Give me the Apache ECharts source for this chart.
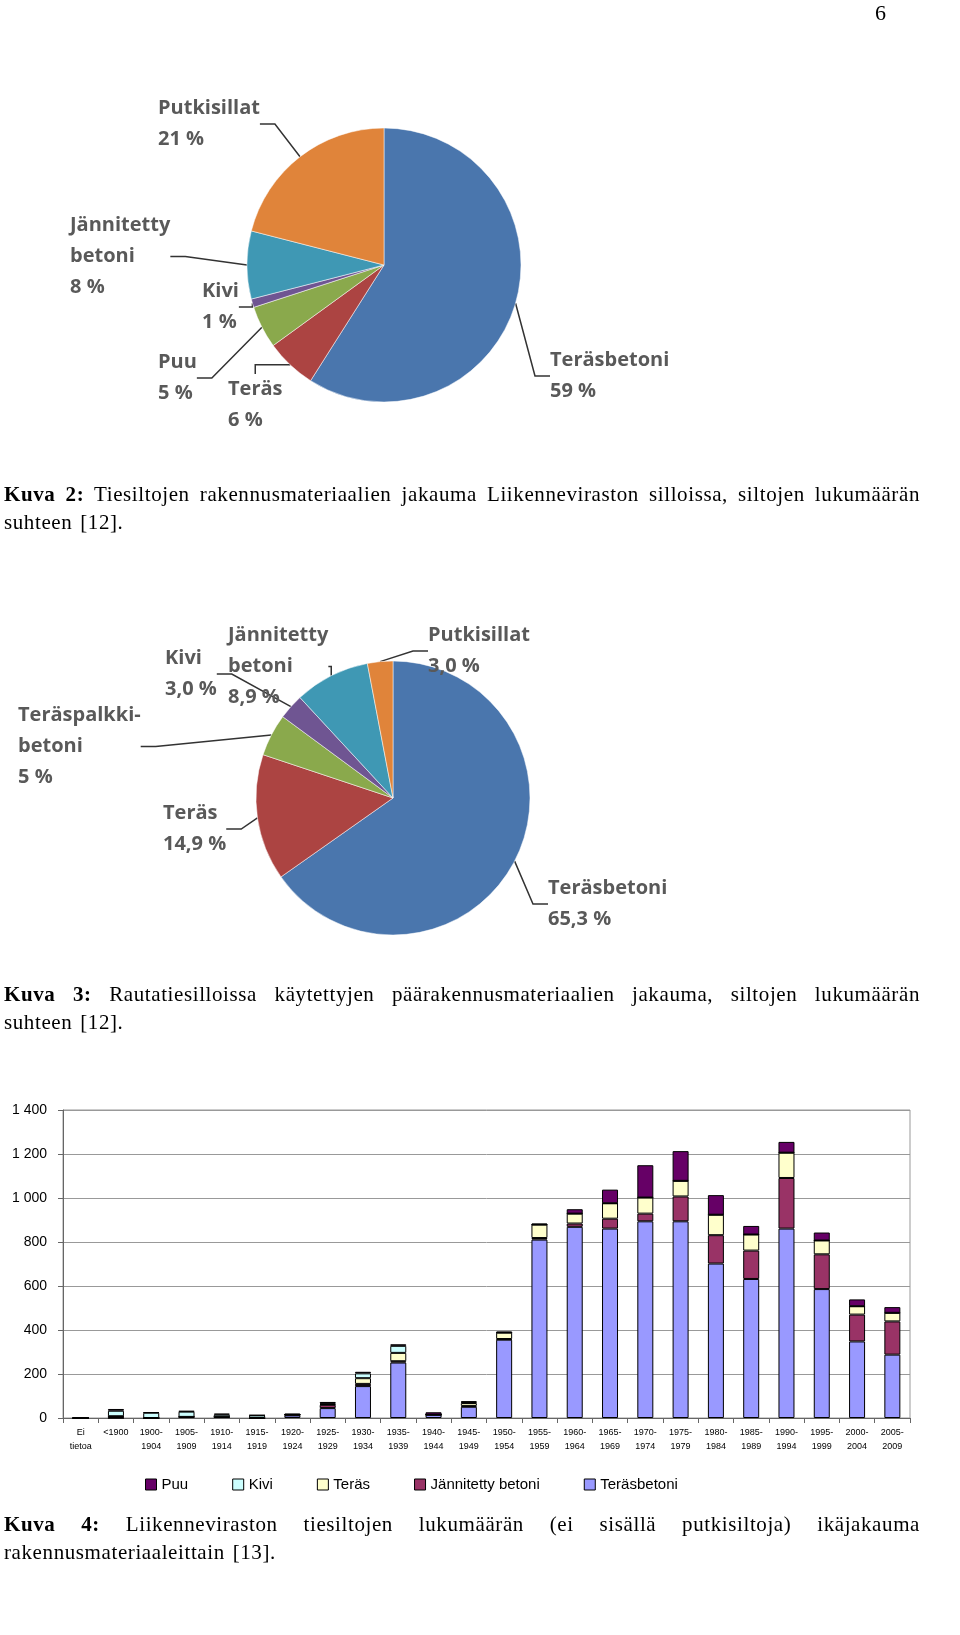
<!DOCTYPE html>
<html>
<head>
<meta charset="UTF-8">
<title>Kuvat 2-4</title>
<script src="https://cdn.jsdelivr.net/npm/echarts@6/dist/echarts.min.js"></script>
<style>
  body { margin: 0; background: #fff; }
  #page { position: relative; width: 960px; height: 1635px; }
  #chart { position: absolute; left: 0; top: 0; width: 960px; height: 1635px; }
  .cap { position: absolute; left: 4px; width: 916px; font-family: "Liberation Serif", serif;
         font-size: 21px; letter-spacing: 0.6px; word-spacing: 2px; line-height: 28px;
         text-align: justify; text-align-last: left; color: #000; }
  .num { position: absolute; right: 74px; top: 0; font-family: "Liberation Serif", serif; font-size: 22px; }
</style>
</head>
<body>
<div id="page">
  <div id="chart"></div>
  <div class="num">6</div>
  <div class="cap" style="top:480px"><b>Kuva 2:</b> Tiesiltojen rakennusmateriaalien jakauma Liikenneviraston silloissa, siltojen lukumäärän suhteen [12].</div>
  <div class="cap" style="top:980px"><b>Kuva 3:</b> Rautatiesilloissa käytettyjen päärakennusmateriaalien jakauma, siltojen lukumäärän suhteen [12].</div>
  <div class="cap" style="top:1510px"><b>Kuva 4:</b> Liikenneviraston tiesiltojen lukumäärän (ei sisällä putkisiltoja) ikäjakauma rakennusmateriaaleittain [13].</div>
</div>
<script>
// Kuva 2: tiesillat
var pie1Names = ['Teräsbetoni', 'Teräs', 'Puu', 'Kivi', 'Jännitetty\nbetoni', 'Putkisillat'];
var pie1Values = [59, 6, 5, 1, 8, 21];
var pie1Labels = ['59 %', '6 %', '5 %', '1 %', '8 %', '21 %'];
// Kuva 3: rautatiesillat
var pie2Names = ['Teräsbetoni', 'Teräs', 'Teräspalkki-\nbetoni', 'Kivi', 'Jännitetty\nbetoni', 'Putkisillat'];
var pie2Values = [65.3, 14.9, 5, 3.0, 8.9, 3.0];
var pie2Labels = ['65,3 %', '14,9 %', '5 %', '3,0 %', '8,9 %', '3,0 %'];
var pieColors = ['#4a76ad', '#ac4442', '#8aa94c', '#6f5592', '#3f98b4', '#e0843a'];

// Kuva 4: ikäjakauma
var periods = ['Ei\ntietoa', '<1900', '1900-\n1904', '1905-\n1909', '1910-\n1914', '1915-\n1919', '1920-\n1924',
  '1925-\n1929', '1930-\n1934', '1935-\n1939', '1940-\n1944', '1945-\n1949', '1950-\n1954', '1955-\n1959',
  '1960-\n1964', '1965-\n1969', '1970-\n1974', '1975-\n1979', '1980-\n1984', '1985-\n1989', '1990-\n1994',
  '1995-\n1999', '2000-\n2004', '2005-\n2009'];
var terasbetoni = [0, 0, 0, 5, 5, 0, 12, 45, 145, 252, 15, 51, 356, 811, 869, 861, 894, 894, 702, 632, 861, 586, 348, 288];
var jannitetty  = [0, 8, 0, 0, 0, 0, 3, 15, 10, 6, 0, 4, 3, 7, 15, 45, 35, 113, 129, 129, 230, 158, 122, 151];
var teras       = [0, 0, 0, 0, 0, 0, 0, 3, 26, 38, 0, 13, 29, 61, 45, 70, 73, 71, 93, 73, 115, 63, 38, 39];
var kivi        = [0, 25, 24, 24, 10, 12, 0, 3, 22, 32, 0, 4, 0, 0, 0, 0, 0, 0, 0, 0, 0, 0, 0, 0];
var puu         = [0, 8, 2, 3, 5, 1, 5, 7, 7, 7, 11, 4, 5, 5, 20, 62, 147, 135, 89, 39, 49, 36, 31, 26];

// label anchor points (text positions)
var pie1Pos = [[550, 345, 'left'], [228, 374, 'left'], [158, 347, 'left'], [202, 276, 'left'], [70, 210, 'left'], [158, 93, 'left']];
var pie2Pos = [[548, 873, 'left'], [163, 798, 'left'], [18, 700, 'left'], [165, 643, 'left'], [228, 620, 'left'], [428, 620, 'left']];

function pieData(names, values, labels) {
  return names.map(function (n, i) {
    return { name: n, value: values[i], pct: labels[i], itemStyle: { color: pieColors[i] } };
  });
}

function pieSeries(names, values, labels, center, pos) {
  return {
    type: 'pie',
    center: center,
    radius: 137,
    startAngle: 90,
    clockwise: true,
    data: pieData(names, values, labels),
    itemStyle: { borderColor: '#fff', borderWidth: 0.5 },
    label: {
      formatter: function (p) { return p.name + '\n' + p.data.pct; },
      fontFamily: 'Open Sans', fontWeight: 'bold', fontSize: 20, lineHeight: 31,
      color: '#595959', align: 'left'
    },
    labelLine: { show: true, length: 20, length2: 15, lineStyle: { color: '#333', width: 1.5 } },
    labelLayout: function (params) {
      var p = pos[params.dataIndex];
      return { x: p[0], y: p[1], align: p[2], verticalAlign: 'top' };
    },
    silent: true
  };
}

var barColors = { puu: '#660066', kivi: '#ccffff', teras: '#ffffcc', jannitetty: '#993366', terasbetoni: '#9999ff' };

function barSeries(name, data, color) {
  return {
    name: name, type: 'bar', stack: 'all', data: data,
    xAxisIndex: 0, yAxisIndex: 0,
    barWidth: 16,
    itemStyle: { color: color, borderColor: '#000', borderWidth: 1 }
  };
}

var chart = echarts.init(document.getElementById('chart'));
chart.setOption({
  animation: false,
  grid: { left: 63, right: 50, top: 1110, height: 308, show: true, borderColor: '#999', borderWidth: 1 },
  legend: {
    top: 1472, left: 140, itemWidth: 11, itemHeight: 11, itemGap: 44,
    icon: 'rect',
    textStyle: { fontFamily: 'Liberation Sans', fontSize: 15, color: '#000' },
    itemStyle: { borderColor: '#000', borderWidth: 1 },
    data: ['Puu', 'Kivi', 'Teräs', 'Jännitetty betoni', 'Teräsbetoni']
  },
  xAxis: {
    type: 'category', data: periods, gridIndex: 0,
    axisLine: { lineStyle: { color: '#666' } },
    axisTick: { show: true, lineStyle: { color: '#666' } },
    axisLabel: { interval: 0, fontFamily: 'Liberation Sans', fontSize: 9, color: '#000', lineHeight: 14 }
  },
  yAxis: {
    type: 'value', min: 0, max: 1400, interval: 200, gridIndex: 0,
    axisLine: { show: true, lineStyle: { color: '#666' } },
    axisTick: { show: true, lineStyle: { color: '#666' } },
    splitLine: { lineStyle: { color: '#999' } },
    axisLabel: {
      fontFamily: 'Liberation Sans', fontSize: 14, color: '#000', margin: 16,
      formatter: function (v) { return v >= 1000 ? Math.floor(v / 1000) + ' ' + String(v % 1000).padStart(3, '0') : String(v); }
    }
  },
  series: [
    pieSeries(pie1Names, pie1Values, pie1Labels, [384, 265], pie1Pos),
    pieSeries(pie2Names, pie2Values, pie2Labels, [393, 798], pie2Pos),
    barSeries('Teräsbetoni', terasbetoni, barColors.terasbetoni),
    barSeries('Jännitetty betoni', jannitetty, barColors.jannitetty),
    barSeries('Teräs', teras, barColors.teras),
    barSeries('Kivi', kivi, barColors.kivi),
    barSeries('Puu', puu, barColors.puu)
  ]
});
</script>
</body>
</html>
